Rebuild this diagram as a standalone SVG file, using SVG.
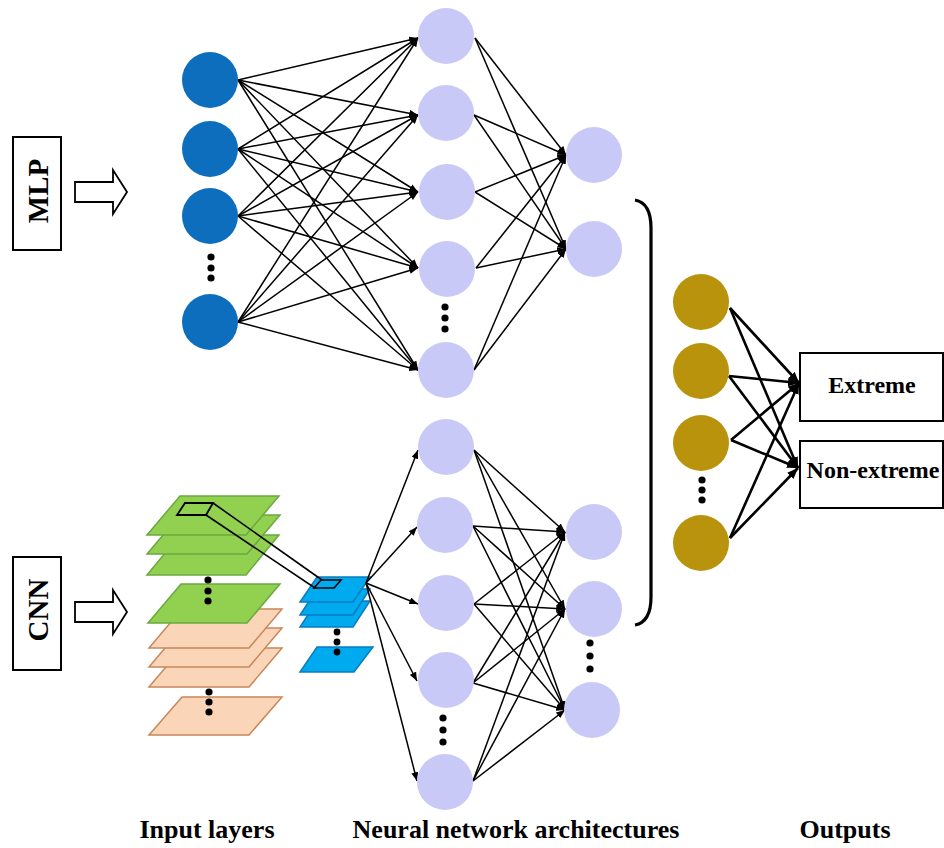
<svg xmlns="http://www.w3.org/2000/svg" width="944" height="848" viewBox="0 0 944 848">
<defs>
<marker id="ah" viewBox="0 0 10 8" refX="10" refY="4" markerWidth="9" markerHeight="7" markerUnits="userSpaceOnUse" orient="auto"><path d="M0,0 L10,4 L0,8 Z" fill="#000"/></marker>
<marker id="ahb" viewBox="0 0 10 8" refX="10" refY="4" markerWidth="11" markerHeight="9" markerUnits="userSpaceOnUse" orient="auto"><path d="M0,0 L10,4 L0,8 Z" fill="#000"/></marker>
</defs>
<style>
.in{fill:#0d6ebd}
.hid{fill:#c8c9f7}
.out{fill:#b8930b}
.dot{fill:#000}
.c line{stroke:#000;stroke-width:1.5;marker-end:url(#ah)}
.c .g line{stroke-width:2.6;marker-end:url(#ahb)}
.gr{fill:#92d050;stroke:#6aa842;stroke-width:1.5}
.or{fill:#fbd5b8;stroke:#c8875a;stroke-width:1.5}
.bl{fill:#00aaee;stroke:#0a7cc0;stroke-width:1.5}
.box{fill:#fff;stroke:#000;stroke-width:2}
.t{font-family:"Liberation Serif","Times New Roman",serif;font-weight:bold;fill:#000}
</style>
<rect width="944" height="848" fill="#fff"/>

<g id="mlp-label">
<rect class="box" x="13" y="137" width="48" height="113"/>
<text class="t" font-size="29" text-anchor="middle" transform="translate(48,191) rotate(-90)">MLP</text>
<path d="M75,182 L113,182 L113,170 L127,192 L113,214 L113,202 L75,202 Z" fill="#fff" stroke="#000" stroke-width="1.8"/>
</g>
<g id="cnn-label">
<rect class="box" x="13" y="557" width="48" height="113"/>
<text class="t" font-size="29" text-anchor="middle" transform="translate(48,610) rotate(-90)">CNN</text>
<path d="M75,602 L113,602 L113,590 L127,612 L113,634 L113,622 L75,622 Z" fill="#fff" stroke="#000" stroke-width="1.8"/>
</g>

<g id="cnn-input-layers">
<polygon class="or" points="182,697 282,697 249,735 149,735"/>
<polygon class="or" points="182,648 282,648 249,687 149,687"/>
<polygon class="or" points="182,628 282,628 249,667 149,667"/>
<polygon class="or" points="182,609 282,609 249,648 149,648"/>
<polygon class="gr" points="181,584 280,584 247,623 148,623"/>
<polygon class="gr" points="180,535 279,535 246,575 147,575"/>
<polygon class="gr" points="180,515 280,515 247,554 147,554"/>
<polygon class="gr" points="180,496 279,496 246,535 147,535"/>
<circle class="dot" cx="208" cy="580" r="3.6"/>
<circle class="dot" cx="208" cy="591" r="3.6"/>
<circle class="dot" cx="208" cy="601" r="3.6"/>
<circle class="dot" cx="209" cy="692" r="3.6"/>
<circle class="dot" cx="209" cy="702" r="3.6"/>
<circle class="dot" cx="209" cy="712" r="3.6"/>
</g>

<g id="cnn-feature-maps">
<polygon class="bl" points="317,601 370,601 353,627 300,627"/>
<polygon class="bl" points="317,589 370,589 353,615 300,615"/>
<polygon class="bl" points="317,577 370,577 353,602 300,602"/>
<polygon class="bl" points="317,647 373,647 354,672 300,672"/>
<circle class="dot" cx="337" cy="632" r="3.4"/>
<circle class="dot" cx="337" cy="642" r="3.4"/>
<circle class="dot" cx="337" cy="652" r="3.4"/>
</g>

<g id="kernel">
<polygon points="185,503 213,503 206,515 177,515" fill="none" stroke="#000" stroke-width="1.8"/>
<polygon points="321,580 341,580 334,588 314,588" fill="none" stroke="#000" stroke-width="1.6"/>
<line x1="213" y1="503" x2="322" y2="580" stroke="#000" stroke-width="1.6"/>
<line x1="206" y1="515" x2="315" y2="588" stroke="#000" stroke-width="1.6"/>
</g>

<g id="connectors" class="c">
<g id="mlp-in-h1">
<line x1="238" y1="80" x2="418" y2="38"/><line x1="238" y1="80" x2="418" y2="115"/><line x1="238" y1="80" x2="418" y2="192"/><line x1="238" y1="80" x2="418" y2="268"/><line x1="238" y1="80" x2="418" y2="370"/>
<line x1="238" y1="149" x2="418" y2="38"/><line x1="238" y1="149" x2="418" y2="115"/><line x1="238" y1="149" x2="418" y2="192"/><line x1="238" y1="149" x2="418" y2="268"/><line x1="238" y1="149" x2="418" y2="370"/>
<line x1="238" y1="216" x2="418" y2="38"/><line x1="238" y1="216" x2="418" y2="115"/><line x1="238" y1="216" x2="418" y2="192"/><line x1="238" y1="216" x2="418" y2="268"/><line x1="238" y1="216" x2="418" y2="370"/>
<line x1="238" y1="322" x2="418" y2="38"/><line x1="238" y1="322" x2="418" y2="115"/><line x1="238" y1="322" x2="418" y2="192"/><line x1="238" y1="322" x2="418" y2="268"/><line x1="238" y1="322" x2="418" y2="370"/>
</g>
<g id="mlp-h1-h2">
<line x1="475" y1="38" x2="566" y2="155"/><line x1="475" y1="38" x2="566" y2="249"/>
<line x1="474" y1="115" x2="566" y2="155"/><line x1="474" y1="115" x2="566" y2="249"/>
<line x1="475" y1="192" x2="566" y2="155"/><line x1="475" y1="192" x2="566" y2="249"/>
<line x1="476" y1="268" x2="566" y2="155"/><line x1="476" y1="268" x2="566" y2="249"/>
<line x1="474" y1="370" x2="566" y2="155"/><line x1="474" y1="370" x2="566" y2="249"/>
</g>
<g id="cnn-fm-h1">
<line x1="366" y1="583" x2="418" y2="450"/><line x1="366" y1="583" x2="417" y2="527"/><line x1="366" y1="583" x2="418" y2="604"/><line x1="366" y1="583" x2="417" y2="681"/><line x1="366" y1="583" x2="417" y2="781"/>
</g>
<g id="cnn-h1-h2">
<line x1="474" y1="450" x2="565" y2="532"/><line x1="474" y1="450" x2="565" y2="609"/><line x1="474" y1="450" x2="565" y2="710"/>
<line x1="473" y1="526" x2="565" y2="532"/><line x1="473" y1="526" x2="565" y2="609"/><line x1="473" y1="526" x2="565" y2="710"/>
<line x1="474" y1="604" x2="565" y2="532"/><line x1="474" y1="604" x2="565" y2="609"/><line x1="474" y1="604" x2="565" y2="710"/>
<line x1="473" y1="683" x2="565" y2="532"/><line x1="473" y1="683" x2="565" y2="609"/><line x1="473" y1="683" x2="565" y2="710"/>
<line x1="473" y1="781" x2="565" y2="532"/><line x1="473" y1="781" x2="565" y2="609"/><line x1="473" y1="781" x2="565" y2="710"/>
</g>
<g id="out-links" class="g">
<line x1="730" y1="308" x2="799" y2="383"/><line x1="730" y1="308" x2="798" y2="468"/>
<line x1="729" y1="376" x2="799" y2="383"/><line x1="729" y1="376" x2="798" y2="468"/>
<line x1="731" y1="440" x2="799" y2="383"/><line x1="731" y1="440" x2="798" y2="468"/>
<line x1="730" y1="538" x2="799" y2="383"/><line x1="730" y1="538" x2="798" y2="468"/>
</g>
</g>

<g id="mlp-input">
<circle class="in" cx="210" cy="80" r="28"/>
<circle class="in" cx="210" cy="149" r="28"/>
<circle class="in" cx="210" cy="216" r="28"/>
<circle class="in" cx="210" cy="322" r="28"/>
<circle class="dot" cx="211" cy="257" r="3.6"/>
<circle class="dot" cx="211" cy="268" r="3.6"/>
<circle class="dot" cx="211" cy="278" r="3.6"/>
</g>
<g id="mlp-hidden1">
<circle class="hid" cx="446" cy="36" r="28"/>
<circle class="hid" cx="446" cy="113" r="28"/>
<circle class="hid" cx="447" cy="192" r="28"/>
<circle class="hid" cx="447" cy="269" r="28"/>
<circle class="hid" cx="446" cy="370" r="28"/>
<circle class="dot" cx="445" cy="307" r="3.6"/>
<circle class="dot" cx="445" cy="318" r="3.6"/>
<circle class="dot" cx="445" cy="329" r="3.6"/>
</g>
<g id="mlp-hidden2">
<circle class="hid" cx="594" cy="155" r="28"/>
<circle class="hid" cx="594" cy="249" r="28"/>
</g>
<g id="cnn-hidden1">
<circle class="hid" cx="446" cy="447" r="28"/>
<circle class="hid" cx="445" cy="525" r="28"/>
<circle class="hid" cx="446" cy="603" r="28"/>
<circle class="hid" cx="446" cy="680" r="28"/>
<circle class="hid" cx="445" cy="782" r="28"/>
<circle class="dot" cx="443" cy="718" r="3.6"/>
<circle class="dot" cx="443" cy="730" r="3.6"/>
<circle class="dot" cx="443" cy="742" r="3.6"/>
</g>
<g id="cnn-hidden2">
<circle class="hid" cx="594" cy="532" r="28"/>
<circle class="hid" cx="594" cy="609" r="28"/>
<circle class="hid" cx="592" cy="710" r="28"/>
<circle class="dot" cx="590" cy="643" r="3.6"/>
<circle class="dot" cx="590" cy="656" r="3.6"/>
<circle class="dot" cx="590" cy="669" r="3.6"/>
</g>

<g id="bracket">
<path d="M635,200 Q651,203 651,228 L651,597 Q651,622 635,625" fill="none" stroke="#000" stroke-width="3.2"/>
</g>

<g id="output-nodes">
<circle class="out" cx="701" cy="302" r="28"/>
<circle class="out" cx="701" cy="371" r="28"/>
<circle class="out" cx="701" cy="443" r="28"/>
<circle class="out" cx="701" cy="543" r="28"/>
<circle class="dot" cx="702" cy="480" r="3.6"/>
<circle class="dot" cx="702" cy="490" r="3.6"/>
<circle class="dot" cx="702" cy="500" r="3.6"/>
</g>
<g id="extreme">
<rect class="box" x="800" y="353" width="143" height="68"/>
<text class="t" font-size="24" text-anchor="middle" x="872" y="393">Extreme</text>
</g>
<g id="non-extreme">
<rect class="box" x="800" y="441" width="143" height="67"/>
<text class="t" font-size="24" text-anchor="middle" x="873" y="478">Non-extreme</text>
</g>

<g id="captions">
<text class="t" font-size="26" text-anchor="middle" x="207" y="838">Input layers</text>
<text class="t" font-size="26" text-anchor="middle" x="516" y="838">Neural network architectures</text>
<text class="t" font-size="26" text-anchor="middle" x="845" y="838">Outputs</text>
</g>
</svg>
